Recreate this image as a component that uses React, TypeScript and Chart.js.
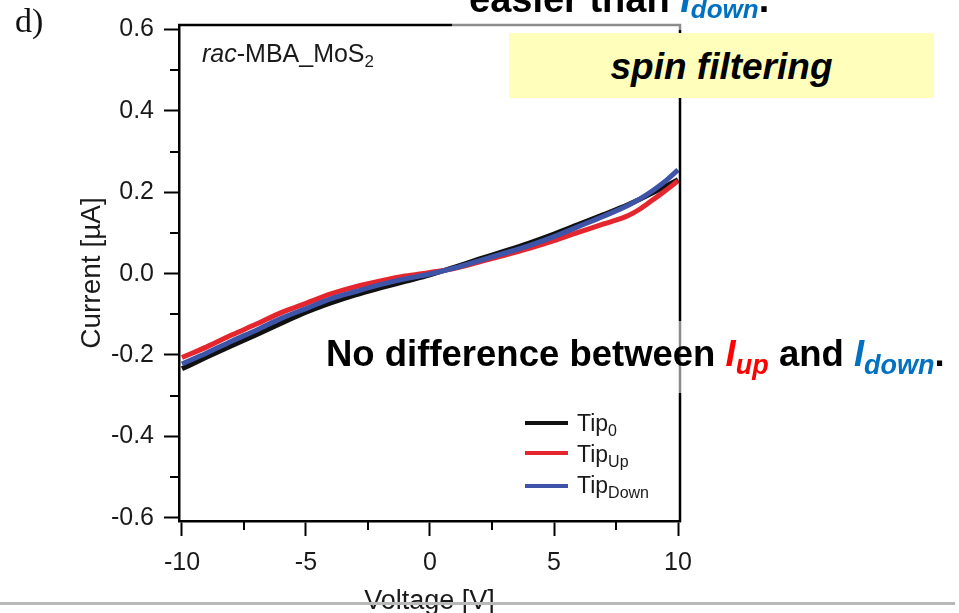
import React, { useEffect, useRef } from "react";
import { Chart, registerables } from "chart.js";

Chart.register(...registerables);

// ---- data ----
const voltage = [-10, -9, -8, -7, -6, -5, -4, -3, -2, -1, 0, 1, 2, 3, 4, 5, 6, 7, 8, 8.5, 9, 9.5, 10];
const tip0 = [-0.234, -0.205, -0.177, -0.150, -0.122, -0.095, -0.072, -0.052, -0.035, -0.019, -0.003, 0.016, 0.036, 0.055, 0.075, 0.097, 0.121, 0.145, 0.170, 0.184, 0.199, 0.215, 0.231];
const tipUp = [-0.206, -0.180, -0.151, -0.124, -0.096, -0.073, -0.050, -0.032, -0.018, -0.006, 0.003, 0.013, 0.029, 0.045, 0.062, 0.081, 0.102, 0.122, 0.143, 0.160, 0.182, 0.204, 0.228];
const tipDown = [-0.222, -0.195, -0.166, -0.139, -0.110, -0.086, -0.062, -0.044, -0.027, -0.013, -0.001, 0.014, 0.032, 0.050, 0.069, 0.091, 0.116, 0.141, 0.168, 0.185, 0.205, 0.228, 0.255];

const xTickValues = [-10, -5, 0, 5, 10];
const xMinorTicks = [-7.5, -2.5, 2.5, 7.5];
const yTickValues = [-0.6, -0.4, -0.2, 0, 0.2, 0.4, 0.6];
const yMinorTicks = [-0.5, -0.3, -0.1, 0.1, 0.3, 0.5];

const seriesLabels = ["Tip0", "TipUp", "TipDown"];
const seriesColors = ["#111111", "#e4262e", "#3e54a9"];

const FONT = "'Liberation Sans', Arial, Helvetica, sans-serif";

const framePlugin = {
  id: "frame",
  afterDraw(chart: any) {
    const { ctx, chartArea: a, scales } = chart;
    const x = scales.x;
    const y = scales.y;
    ctx.save();
    ctx.strokeStyle = "#000";
    ctx.lineWidth = 2.5;
    ctx.beginPath();
    ctx.moveTo(a.left - 1, a.top);
    ctx.lineTo(a.right, a.top);
    ctx.lineTo(a.right, a.bottom + 1);
    ctx.stroke();
    ctx.lineWidth = 2;
    ctx.beginPath();
    xMinorTicks.forEach((v) => {
      const px = Math.round(x.getPixelForValue(v));
      ctx.moveTo(px, a.bottom);
      ctx.lineTo(px, a.bottom + 9);
    });
    yMinorTicks.forEach((v) => {
      const py = Math.round(y.getPixelForValue(v));
      ctx.moveTo(a.left, py);
      ctx.lineTo(a.left - 9, py);
    });
    ctx.stroke();
    ctx.restore();
  },
};

function Sub({ children, size, top }: { children: any; size: number; top: number }) {
  return <span style={{ fontSize: size, position: "relative", top }}>{children}</span>;
}

export default function App() {
  const canvasRef = useRef<HTMLCanvasElement>(null);

  useEffect(() => {
    document.body.style.margin = "0";
    const canvas = canvasRef.current;
    if (!canvas) return;
    const seriesValues = [tip0, tipUp, tipDown];
    const chart = new Chart(canvas, {
      type: "line",
      data: {
        datasets: seriesValues.map((vals, i) => ({
          label: seriesLabels[i],
          data: voltage.map((v, k) => ({ x: v, y: vals[k] })),
          borderColor: seriesColors[i],
          backgroundColor: seriesColors[i],
          borderWidth: 5,
          pointRadius: 0,
          cubicInterpolationMode: "monotone",
          fill: false,
          order: 3 - i,
        })),
      },
      options: {
        animation: false,
        responsive: false,
        maintainAspectRatio: false,
        devicePixelRatio: 1,
        layout: { padding: { top: 18, right: 279, left: 0, bottom: 0 } },
        plugins: { legend: { display: false }, tooltip: { enabled: false } },
        scales: {
          x: {
            type: "linear",
            min: -10.12,
            max: 10.08,
            afterBuildTicks: (s: any) => {
              s.ticks = xTickValues.map((v) => ({ value: v }));
            },
            afterFit: (s: any) => {
              s.height = 92;
            },
            ticks: {
              font: { family: FONT, size: 25 },
              color: "#1a1a1a",
              padding: 12,
              maxRotation: 0,
              autoSkip: false,
              callback: (v: any) => String(v),
            },
            grid: {
              display: true,
              drawOnChartArea: false,
              drawTicks: true,
              tickLength: 15,
              tickWidth: 2,
              tickColor: "#000",
              color: "#000",
            },
            border: { display: true, color: "#000", width: 2.5 },
            title: {
              display: true,
              text: "Voltage [V]",
              color: "#1a1a1a",
              font: { family: FONT, size: 27, lineHeight: 0.85 },
              padding: { top: 0, bottom: 0 },
            },
          },
          y: {
            type: "linear",
            min: -0.608,
            max: 0.611,
            afterBuildTicks: (s: any) => {
              s.ticks = yTickValues.map((v) => ({ value: v }));
            },
            afterFit: (s: any) => {
              s.width = 179;
            },
            ticks: {
              font: { family: FONT, size: 25 },
              color: "#1a1a1a",
              padding: 10,
              autoSkip: false,
              callback: (v: any) => Number(v).toFixed(1),
            },
            grid: {
              display: true,
              drawOnChartArea: false,
              drawTicks: true,
              tickLength: 15,
              tickWidth: 2,
              tickColor: "#000",
              color: "#000",
            },
            border: { display: true, color: "#000", width: 2.5 },
            title: {
              display: true,
              text: "Current [µA]",
              color: "#1a1a1a",
              font: { family: FONT, size: 28, lineHeight: 1 },
              padding: { top: 78, bottom: 0 },
            },
          },
        },
      },
      plugins: [framePlugin],
    } as any);
    return () => chart.destroy();
  }, []);

  const abs = (s: any) => ({ position: "absolute" as const, whiteSpace: "nowrap" as const, ...s });
  const legendRows = [
    { y: 423, base: 431, sub: "0" },
    { y: 453, base: 462, sub: "Up" },
    { y: 486, base: 493, sub: "Down" },
  ];

  return (
    <div
      style={{
        position: "absolute",
        left: 0,
        top: 0,
        width: 959,
        height: 613,
        overflow: "hidden",
        background: "#fff",
        fontFamily: FONT,
      }}
    >
      <canvas ref={canvasRef} width={959} height={613} style={{ display: "block", width: 959, height: 613 }} />

      {/* translucent cover boxes from the slide */}
      <div style={abs({ left: 452, top: 0, width: 507, height: 30, background: "rgba(255,255,255,0.55)" })} />
      <div style={abs({ left: 318, top: 321, width: 641, height: 72, background: "rgba(255,255,255,0.55)" })} />

      {/* panel letter */}
      <div style={abs({ left: 15, top: 4, fontFamily: "'Liberation Serif', 'Times New Roman', serif", fontSize: 34, lineHeight: "34px", color: "#111" })}>
        d)
      </div>

      {/* sample label */}
      <div style={abs({ left: 202, top: 41, fontSize: 25, lineHeight: "25px", color: "#1a1a1a" })}>
        <i>rac</i>-MBA_MoS<Sub size={17} top={5}>2</Sub>
      </div>

      {/* legend */}
      {legendRows.map((r, i) => (
        <React.Fragment key={i}>
          <div style={abs({ left: 525, top: r.y - 2, width: 43, height: 4, background: seriesColors[i] })} />
          <div style={abs({ left: 577, top: r.base - 19.5, fontSize: 23, lineHeight: "23px", color: "#1a1a1a" })}>
            Tip<Sub size={16} top={5}>{r.sub}</Sub>
          </div>
        </React.Fragment>
      ))}

      {/* top text, cut off by the page edge */}
      <div style={abs({ left: 469, top: -20, fontSize: 38, lineHeight: "38px", fontWeight: 700, color: "#000" })}>
        easier than{" "}
        <span style={{ color: "#0070c0", fontStyle: "italic" }}>
          I<Sub size={26} top={6}>down</Sub>
        </span>
        .
      </div>

      {/* yellow box */}
      <div
        style={abs({
          left: 509,
          top: 33,
          width: 425,
          height: 65,
          background: "#ffffbb",
          textAlign: "center",
          fontSize: 37,
          lineHeight: "63px",
          paddingTop: 2,
          boxSizing: "border-box",
          fontWeight: 700,
          fontStyle: "italic",
          color: "#000",
        })}
      >
        spin filtering
      </div>

      {/* middle statement */}
      <div style={abs({ left: 326, top: 336, fontSize: 36.5, lineHeight: "36px", fontWeight: 700, color: "#000" })}>
        No difference between{" "}
        <span style={{ color: "#ff0000", fontStyle: "italic" }}>
          I<Sub size={27} top={8}>up</Sub>
        </span>{" "}
        and{" "}
        <span style={{ color: "#0070c0", fontStyle: "italic" }}>
          I<Sub size={27} top={8}>down</Sub>
        </span>
        .
      </div>

      {/* bottom rule */}
      <div style={abs({ left: 0, top: 602, width: 955, height: 3, background: "#b8b8b8" })} />
    </div>
  );
}
